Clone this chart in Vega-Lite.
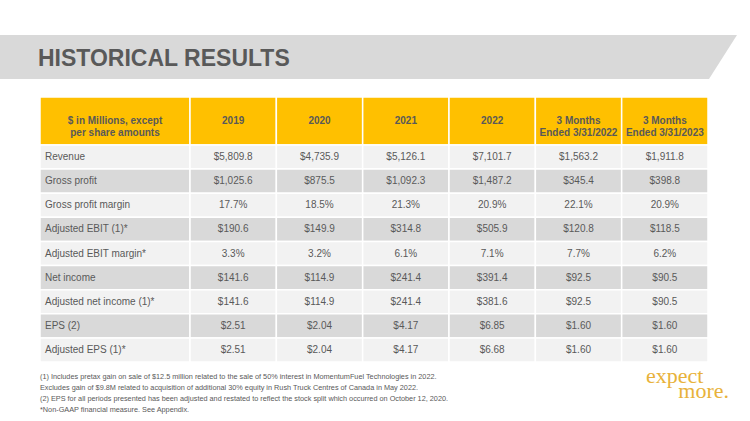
{
  "$schema": "https://vega.github.io/schema/vega-lite/v6.json",
  "width": 750,
  "height": 421,
  "autosize": {"type": "none"},
  "padding": 0,
  "background": "white",
  "config": {"view": {"stroke": null}},
  "datasets": {
    "metrics": [
      {"metric": "Revenue"},
      {"metric": "Gross profit"},
      {"metric": "Gross profit  margin"},
      {"metric": "Adjusted EBIT  (1)*"},
      {"metric": "Adjusted EBIT  margin*"},
      {"metric": "Net income"},
      {"metric": "Adjusted net income (1)*"},
      {"metric": "EPS (2)"},
      {"metric": "Adjusted EPS (1)*"}
    ],
    "periods": [
      {"period": "2019", "header": "2019"},
      {"period": "2020", "header": "2020"},
      {"period": "2021", "header": "2021"},
      {"period": "2022", "header": "2022"},
      {"period": "Q1 2022", "header": "3 Months\nEnded 3/31/2022"},
      {"period": "Q1 2023", "header": "3 Months\nEnded 3/31/2023"}
    ],
    "cells": [
      {"metric": "Revenue", "period": "2019", "value": "$5,809.8"},
      {"metric": "Revenue", "period": "2020", "value": "$4,735.9"},
      {"metric": "Revenue", "period": "2021", "value": "$5,126.1"},
      {"metric": "Revenue", "period": "2022", "value": "$7,101.7"},
      {"metric": "Revenue", "period": "Q1 2022", "value": "$1,563.2"},
      {"metric": "Revenue", "period": "Q1 2023", "value": "$1,911.8"},
      {"metric": "Gross profit", "period": "2019", "value": "$1,025.6"},
      {"metric": "Gross profit", "period": "2020", "value": "$875.5"},
      {"metric": "Gross profit", "period": "2021", "value": "$1,092.3"},
      {"metric": "Gross profit", "period": "2022", "value": "$1,487.2"},
      {"metric": "Gross profit", "period": "Q1 2022", "value": "$345.4"},
      {"metric": "Gross profit", "period": "Q1 2023", "value": "$398.8"},
      {"metric": "Gross profit  margin", "period": "2019", "value": "17.7%"},
      {"metric": "Gross profit  margin", "period": "2020", "value": "18.5%"},
      {"metric": "Gross profit  margin", "period": "2021", "value": "21.3%"},
      {"metric": "Gross profit  margin", "period": "2022", "value": "20.9%"},
      {"metric": "Gross profit  margin", "period": "Q1 2022", "value": "22.1%"},
      {"metric": "Gross profit  margin", "period": "Q1 2023", "value": "20.9%"},
      {"metric": "Adjusted EBIT  (1)*", "period": "2019", "value": "$190.6"},
      {"metric": "Adjusted EBIT  (1)*", "period": "2020", "value": "$149.9"},
      {"metric": "Adjusted EBIT  (1)*", "period": "2021", "value": "$314.8"},
      {"metric": "Adjusted EBIT  (1)*", "period": "2022", "value": "$505.9"},
      {"metric": "Adjusted EBIT  (1)*", "period": "Q1 2022", "value": "$120.8"},
      {"metric": "Adjusted EBIT  (1)*", "period": "Q1 2023", "value": "$118.5"},
      {"metric": "Adjusted EBIT  margin*", "period": "2019", "value": "3.3%"},
      {"metric": "Adjusted EBIT  margin*", "period": "2020", "value": "3.2%"},
      {"metric": "Adjusted EBIT  margin*", "period": "2021", "value": "6.1%"},
      {"metric": "Adjusted EBIT  margin*", "period": "2022", "value": "7.1%"},
      {"metric": "Adjusted EBIT  margin*", "period": "Q1 2022", "value": "7.7%"},
      {"metric": "Adjusted EBIT  margin*", "period": "Q1 2023", "value": "6.2%"},
      {"metric": "Net income", "period": "2019", "value": "$141.6"},
      {"metric": "Net income", "period": "2020", "value": "$114.9"},
      {"metric": "Net income", "period": "2021", "value": "$241.4"},
      {"metric": "Net income", "period": "2022", "value": "$391.4"},
      {"metric": "Net income", "period": "Q1 2022", "value": "$92.5"},
      {"metric": "Net income", "period": "Q1 2023", "value": "$90.5"},
      {"metric": "Adjusted net income (1)*", "period": "2019", "value": "$141.6"},
      {"metric": "Adjusted net income (1)*", "period": "2020", "value": "$114.9"},
      {"metric": "Adjusted net income (1)*", "period": "2021", "value": "$241.4"},
      {"metric": "Adjusted net income (1)*", "period": "2022", "value": "$381.6"},
      {"metric": "Adjusted net income (1)*", "period": "Q1 2022", "value": "$92.5"},
      {"metric": "Adjusted net income (1)*", "period": "Q1 2023", "value": "$90.5"},
      {"metric": "EPS (2)", "period": "2019", "value": "$2.51"},
      {"metric": "EPS (2)", "period": "2020", "value": "$2.04"},
      {"metric": "EPS (2)", "period": "2021", "value": "$4.17"},
      {"metric": "EPS (2)", "period": "2022", "value": "$6.85"},
      {"metric": "EPS (2)", "period": "Q1 2022", "value": "$1.60"},
      {"metric": "EPS (2)", "period": "Q1 2023", "value": "$1.60"},
      {"metric": "Adjusted EPS (1)*", "period": "2019", "value": "$2.51"},
      {"metric": "Adjusted EPS (1)*", "period": "2020", "value": "$2.04"},
      {"metric": "Adjusted EPS (1)*", "period": "2021", "value": "$4.17"},
      {"metric": "Adjusted EPS (1)*", "period": "2022", "value": "$6.68"},
      {"metric": "Adjusted EPS (1)*", "period": "Q1 2022", "value": "$1.60"},
      {"metric": "Adjusted EPS (1)*", "period": "Q1 2023", "value": "$1.60"}
    ],
    "texts": [
      {"part": "title", "t": "HISTORICAL RESULTS"},
      {"part": "corner", "t": "$ in Millions, except\nper share amounts"},
      {"part": "notes", "t": "(1)  Includes pretax gain on sale of $12.5 million related to the sale of 50% interest in MomentumFuel Technologies in 2022.\nExcludes gain of $9.8M related to acquisition of additional 30% equity in Rush Truck  Centres of Canada in May 2022.\n(2)  EPS for all periods presented has been adjusted and restated to reflect the stock split which occurred on October 12, 2020.\n*Non-GAAP financial measure.  See Appendix."},
      {"part": "logo1", "t": "expect"},
      {"part": "logo2", "t": "more."}
    ]
  },
  "layer": [
    {
      "data": {"values": [{"k": "banner"}]},
      "mark": {"type": "point", "filled": true, "opacity": 1, "color": "#D9D9D9", "strokeWidth": 0, "shape": "M0,35L737,35L709,79L0,79Z", "size": 4},
      "encoding": {"x": {"value": 0}, "y": {"value": 0}}
    },
    {
      "data": {"name": "texts"},
      "transform": [{"filter": "datum.part == 'title'"}],
      "mark": {"type": "text", "align": "left", "baseline": "alphabetic", "font": "Liberation Sans, Arial, sans-serif", "fontWeight": "bold", "fontSize": 23, "color": "#595959"},
      "encoding": {"x": {"value": 38}, "y": {"value": 66}, "text": {"field": "t"}}
    },
    {
      "data": {"name": "texts"},
      "transform": [{"filter": "datum.part == 'corner'"}],
      "mark": {"type": "rect", "color": "#FFC000", "stroke": "white", "strokeWidth": 1.5},
      "encoding": {
        "x": {"field": "part", "type": "nominal", "axis": null, "scale": {"domain": ["corner"], "range": [40, 190], "paddingInner": 0, "paddingOuter": 0}},
        "y": {"field": "part", "type": "nominal", "axis": null, "scale": {"domain": ["corner"], "range": [97, 145], "paddingInner": 0, "paddingOuter": 0}}
      }
    },
    {
      "data": {"name": "texts"},
      "transform": [{"filter": "datum.part == 'corner'"}],
      "mark": {"type": "text", "align": "center", "baseline": "middle", "lineBreak": "\n", "lineHeight": 11.5, "font": "Liberation Sans, Arial, sans-serif", "fontWeight": "bold", "fontSize": 10, "color": "#595959"},
      "encoding": {
        "x": {"field": "part", "type": "nominal", "axis": null, "scale": {"domain": ["corner"], "range": [40, 190], "paddingInner": 0, "paddingOuter": 0}},
        "y": {"field": "part", "type": "nominal", "axis": null, "scale": {"domain": ["corner"], "range": [97, 145], "paddingInner": 0, "paddingOuter": 0}},
        "text": {"field": "t"}
      }
    },
    {
      "data": {"name": "periods"},
      "mark": {"type": "rect", "color": "#FFC000", "stroke": "white", "strokeWidth": 1.5},
      "encoding": {
        "x": {"field": "period", "type": "nominal", "axis": null, "sort": null, "scale": {"domain": ["2019", "2020", "2021", "2022", "Q1 2022", "Q1 2023"], "range": [190, 708], "paddingInner": 0, "paddingOuter": 0}},
        "y": {"datum": "head", "type": "nominal", "axis": null, "scale": {"domain": ["head"], "range": [97, 145], "paddingInner": 0, "paddingOuter": 0}}
      }
    },
    {
      "data": {"name": "periods"},
      "mark": {"type": "text", "align": "center", "baseline": "middle", "lineBreak": "\n", "lineHeight": 12, "font": "Liberation Sans, Arial, sans-serif", "fontWeight": "bold", "fontSize": 10, "color": "#595959"},
      "encoding": {
        "x": {"field": "period", "type": "nominal", "axis": null, "sort": null, "scale": {"domain": ["2019", "2020", "2021", "2022", "Q1 2022", "Q1 2023"], "range": [190, 708], "paddingInner": 0, "paddingOuter": 0}},
        "y": {"datum": "head", "type": "nominal", "axis": null, "scale": {"domain": ["head"], "range": [97, 145], "paddingInner": 0, "paddingOuter": 0}},
        "text": {"field": "header"}
      }
    },
    {
      "data": {"name": "metrics"},
      "mark": {"type": "rect", "stroke": "white", "strokeWidth": 1.5},
      "encoding": {
        "x": {"datum": "label", "type": "nominal", "axis": null, "scale": {"domain": ["label"], "range": [40, 190], "paddingInner": 0, "paddingOuter": 0}},
        "y": {"field": "metric", "type": "nominal", "axis": null, "sort": null, "scale": {"domain": ["Revenue", "Gross profit", "Gross profit  margin", "Adjusted EBIT  (1)*", "Adjusted EBIT  margin*", "Net income", "Adjusted net income (1)*", "EPS (2)", "Adjusted EPS (1)*"], "range": [145, 362], "paddingInner": 0, "paddingOuter": 0}},
        "color": {"field": "metric", "type": "nominal", "legend": null, "scale": {"domain": ["Revenue", "Gross profit", "Gross profit  margin", "Adjusted EBIT  (1)*", "Adjusted EBIT  margin*", "Net income", "Adjusted net income (1)*", "EPS (2)", "Adjusted EPS (1)*"], "range": ["#F2F2F2", "#D9D9D9", "#F2F2F2", "#D9D9D9", "#F2F2F2", "#D9D9D9", "#F2F2F2", "#D9D9D9", "#F2F2F2"]}}
      }
    },
    {
      "data": {"name": "metrics"},
      "mark": {"type": "text", "align": "left", "baseline": "middle", "font": "Liberation Sans, Arial, sans-serif", "fontSize": 10, "color": "#595959"},
      "encoding": {
        "x": {"datum": "label", "type": "nominal", "axis": null, "scale": {"domain": ["label"], "range": [40, 50], "paddingInner": 0, "paddingOuter": 0}},
        "y": {"field": "metric", "type": "nominal", "axis": null, "sort": null, "scale": {"domain": ["Revenue", "Gross profit", "Gross profit  margin", "Adjusted EBIT  (1)*", "Adjusted EBIT  margin*", "Net income", "Adjusted net income (1)*", "EPS (2)", "Adjusted EPS (1)*"], "range": [145, 362], "paddingInner": 0, "paddingOuter": 0}},
        "text": {"field": "metric"}
      }
    },
    {
      "data": {"name": "cells"},
      "mark": {"type": "rect", "stroke": "white", "strokeWidth": 1.5},
      "encoding": {
        "x": {"field": "period", "type": "nominal", "axis": null, "sort": null, "scale": {"domain": ["2019", "2020", "2021", "2022", "Q1 2022", "Q1 2023"], "range": [190, 708], "paddingInner": 0, "paddingOuter": 0}},
        "y": {"field": "metric", "type": "nominal", "axis": null, "sort": null, "scale": {"domain": ["Revenue", "Gross profit", "Gross profit  margin", "Adjusted EBIT  (1)*", "Adjusted EBIT  margin*", "Net income", "Adjusted net income (1)*", "EPS (2)", "Adjusted EPS (1)*"], "range": [145, 362], "paddingInner": 0, "paddingOuter": 0}},
        "color": {"field": "metric", "type": "nominal", "legend": null, "scale": {"domain": ["Revenue", "Gross profit", "Gross profit  margin", "Adjusted EBIT  (1)*", "Adjusted EBIT  margin*", "Net income", "Adjusted net income (1)*", "EPS (2)", "Adjusted EPS (1)*"], "range": ["#F2F2F2", "#D9D9D9", "#F2F2F2", "#D9D9D9", "#F2F2F2", "#D9D9D9", "#F2F2F2", "#D9D9D9", "#F2F2F2"]}}
      }
    },
    {
      "data": {"name": "cells"},
      "mark": {"type": "text", "align": "center", "baseline": "middle", "font": "Liberation Sans, Arial, sans-serif", "fontSize": 10, "color": "#595959"},
      "encoding": {
        "x": {"field": "period", "type": "nominal", "axis": null, "sort": null, "scale": {"domain": ["2019", "2020", "2021", "2022", "Q1 2022", "Q1 2023"], "range": [190, 708], "paddingInner": 0, "paddingOuter": 0}},
        "y": {"field": "metric", "type": "nominal", "axis": null, "sort": null, "scale": {"domain": ["Revenue", "Gross profit", "Gross profit  margin", "Adjusted EBIT  (1)*", "Adjusted EBIT  margin*", "Net income", "Adjusted net income (1)*", "EPS (2)", "Adjusted EPS (1)*"], "range": [145, 362], "paddingInner": 0, "paddingOuter": 0}},
        "text": {"field": "value"}
      }
    },
    {
      "data": {"name": "texts"},
      "transform": [{"filter": "datum.part == 'notes'"}],
      "mark": {"type": "text", "align": "left", "baseline": "alphabetic", "lineBreak": "\n", "lineHeight": 11, "font": "Liberation Sans, Arial, sans-serif", "fontSize": 7.3, "color": "#595959"},
      "encoding": {"x": {"value": 40}, "y": {"value": 379}, "text": {"field": "t"}}
    },
    {
      "data": {"name": "texts"},
      "transform": [{"filter": "datum.part == 'logo1'"}],
      "mark": {"type": "text", "align": "left", "baseline": "alphabetic", "font": "Liberation Serif, serif", "fontSize": 22, "color": "#E8B23A"},
      "encoding": {"x": {"value": 646}, "y": {"value": 383}, "text": {"field": "t"}}
    },
    {
      "data": {"name": "texts"},
      "transform": [{"filter": "datum.part == 'logo2'"}],
      "mark": {"type": "text", "align": "right", "baseline": "alphabetic", "font": "Liberation Serif, serif", "fontSize": 22, "color": "#E8B23A"},
      "encoding": {"x": {"value": 729}, "y": {"value": 398}, "text": {"field": "t"}}
    }
  ],
  "resolve": {"scale": {"x": "independent", "y": "independent", "color": "independent"}}
}
